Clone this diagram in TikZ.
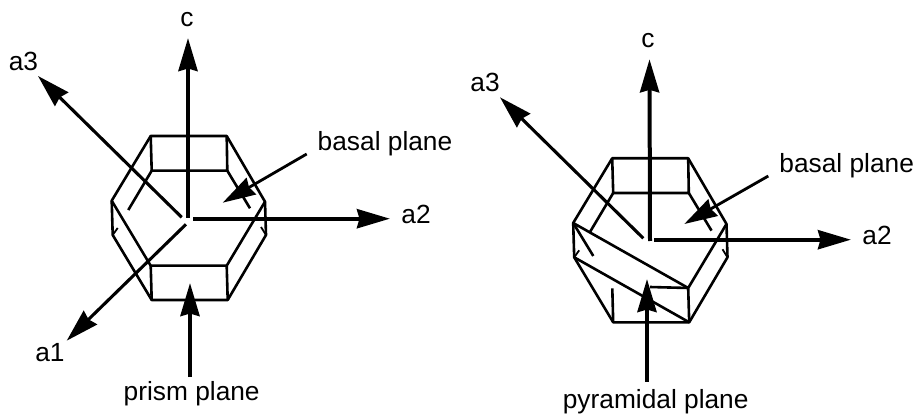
\documentclass[tikz,border=0pt]{standalone}
\usepackage{fontspec}
\setmainfont{Liberation Sans}
\usetikzlibrary{arrows.meta,positioning,calc}
\definecolor{ink}{HTML}{000000}
\tikzset{
  edge/.style={line width=2.6pt,draw=ink,line join=round},
  tick/.style={line width=1.8pt,draw=ink},
  axis/.style={-{Stealth[length=33pt,width=19pt,inset=2.5pt]},line width=3.1pt,draw=ink},
  axisthick/.style={-{Stealth[length=33pt,width=19pt,inset=2.5pt]},line width=4pt,draw=ink},
  pointer/.style={-{Stealth[length=33pt,width=19pt,inset=2.5pt]},line width=2.8pt,draw=ink},
  label/.style={font=\fontsize{26.3}{30}\selectfont,text=ink,inner sep=0pt,anchor=base}
}
\newcommand{\hexcorners}[3]{%
  \coordinate (#1tl) at (#2+150.7,#3+136);
  \coordinate (#1tr) at (#2+226.7,#3+136);
  \coordinate (#1ru) at (#2+265,#3+201.7);
  \coordinate (#1rl) at (#2+266,#3+235);
  \coordinate (#1br) at (#2+227.7,#3+300);
  \coordinate (#1bl) at (#2+151.7,#3+300);
  \coordinate (#1ll) at (#2+112.7,#3+235);
  \coordinate (#1lu) at (#2+111.7,#3+200.7);
  \coordinate (#1itl) at (#2+151.7,#3+170.7);
  \coordinate (#1itr) at (#2+227.3,#3+170.7);
  \coordinate (#1ibl) at (#2+150.7,#3+265.7);
  \coordinate (#1ibr) at (#2+226.7,#3+265.7);
  \coordinate (#1il) at (#2+128.3,#3+210);
  \coordinate (#1ir) at (#2+250,#3+208.3);
  \draw[edge] (#1tl) -- (#1tr) -- (#1ru) -- (#1rl) -- (#1br) -- (#1bl) -- (#1ll) -- (#1lu) -- cycle;
  \draw[edge] (#1tl) -- (#1itl) -- (#1itr) -- (#1tr);
  \draw[edge] (#1itl) -- (#1il);
  \draw[edge] (#1itr) -- (#1ir);
  \draw[edge] (#1ru) -- (#1ibr) -- (#1br);
  \draw[tick] (#1ll) -- ++(5,-7);
  \draw[tick] (#1rl) -- ++(-5,-8);
}
\begin{document}
\begin{tikzpicture}[x=1pt,y=-1pt]
  \useasboundingbox (0,0) rectangle (916,414);
  % left crystal
  \hexcorners{p}{0}{0}
  \draw[edge] (plu) -- (pibl) -- (pibr);
  \draw[edge] (pibl) -- (pbl);
  \coordinate (po) at (188,218);
  \coordinate (poa) at (181.7,217.3);
  \coordinate (pob) at (186,224.3);
  \coordinate (poc) at (193.3,218.7);
  \node[label] (pc) at (187,26.7) {c};
  \node[label] (pa3) at (23.5,71) {a3};
  \node[label] (pa2) at (416,223.3) {a2};
  \node[label] (pa1) at (50,361.7) {a1};
  \node[label] (pbasal) at (385,150.7) {basal plane};
  \node[label] (pprism) at (191.7,400) {prism plane};
  \coordinate (pctip) at (188,38);
  \coordinate (pa3tip) at (38,76);
  \coordinate (pa1tip) at (66.7,340.7);
  \coordinate (pa2tip) at (390,218.7);
  \coordinate (pbtail) at (306.7,154);
  \coordinate (pbtip) at (222.7,202.7);
  \coordinate (pptail) at (190,377);
  \coordinate (pptip) at (190,283);
  \draw[axisthick] (po) -- (pctip);
  \draw[axis] (poa) -- (pa3tip);
  \draw[axis] (pob) -- (pa1tip);
  \draw[axisthick] (poc) -- (pa2tip);
  \draw[pointer] (pbtail) -- (pbtip);
  \draw[axisthick] (pptail) -- (pptip);
  % right crystal
  \hexcorners{q}{461.5}{22.3}
  \draw[edge] (qlu) -- (qibr);
  \draw[edge] (qll) -- (qbr);
  \coordinate (qstubend) at (593.3,256);
  \draw[edge] (qlu) -- (qstubend);
  \coordinate (qstub) at (650,287);
  \coordinate (qstubl) at (612.3,288.3);
  \draw[edge] (qstub) -- (qibr);
  \draw[edge] (qstubl) -- (qbl);
  \coordinate (qo) at (650,241);
  \coordinate (qoa) at (643.3,238.3);
  \coordinate (qoc) at (654.3,239.7);
  \node[label] (qc) at (648,48) {c};
  \node[label] (qa3) at (485,91.7) {a3};
  \node[label] (qa2) at (877,245) {a2};
  \node[label] (qbasal) at (846.7,172.3) {basal plane};
  \node[label] (qpyr) at (655.7,408) {pyramidal plane};
  \coordinate (qctip) at (649.5,59.3);
  \coordinate (qa3tip) at (500,97.3);
  \coordinate (qa2tip) at (851,239.7);
  \coordinate (qbtail) at (768.3,176);
  \coordinate (qbtip) at (684.3,224);
  \coordinate (qptail) at (647,381.7);
  \coordinate (qptip) at (647,279);
  \draw[axisthick] (qo) -- (qctip);
  \draw[axis] (qoa) -- (qa3tip);
  \draw[axisthick] (qoc) -- (qa2tip);
  \draw[pointer] (qbtail) -- (qbtip);
  \draw[axisthick] (qptail) -- (qptip);
\end{tikzpicture}
\end{document}
